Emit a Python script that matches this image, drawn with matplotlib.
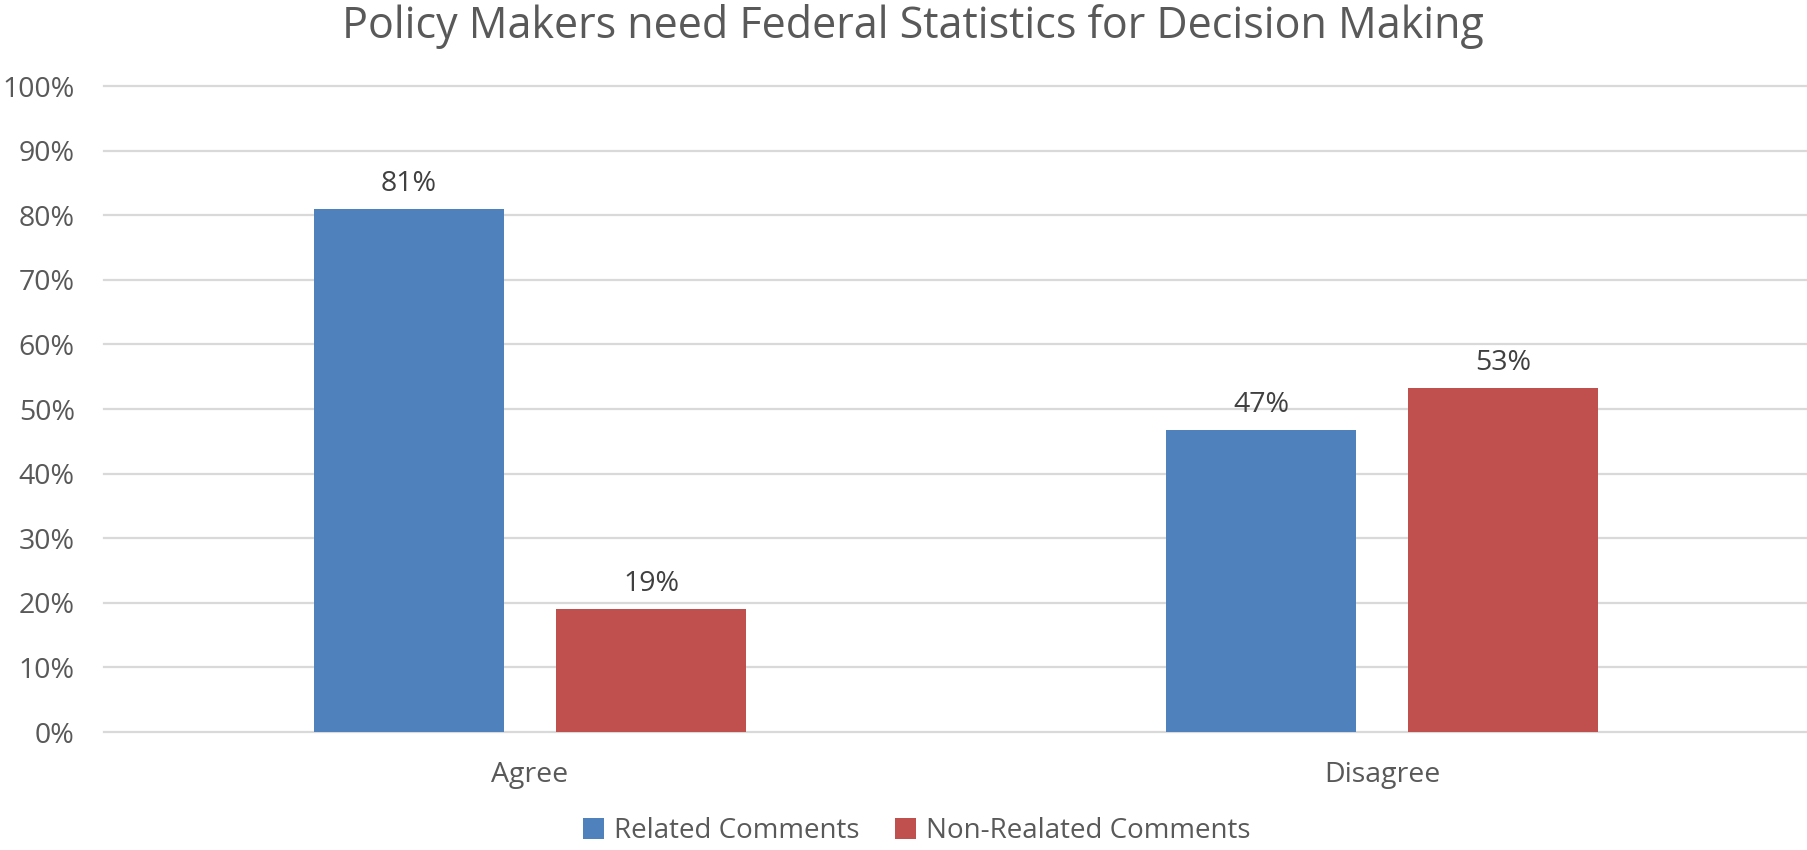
import matplotlib
matplotlib.use("Agg")
import matplotlib.pyplot as plt
from matplotlib.patches import Patch
import numpy as np

# data
categories = ["Agree", "Disagree"]
series_names = ["Related Comments", "Non-Realated Comments"]
related = [0.81, 0.467]
non_related = [0.19, 0.533]
y_ticks = [0.0, 0.1, 0.2, 0.3, 0.4, 0.5, 0.6, 0.7, 0.8, 0.9, 1.0]

colors = ["#4F81BD", "#C0504D"]
text_gray = "#595959"
label_gray = "#404040"
grid_gray = "#D9D9D9"

plt.rcParams["font.family"] = ["Open Sans", "DejaVu Sans"]

fig = plt.figure(figsize=(18.08, 8.5), dpi=100)
ax = fig.add_axes([0.0575, 0.1388, 0.9425, 0.76])

x = np.arange(len(categories))
width = 0.224
offset = 0.142

for vals, shift, color in zip([related, non_related], [-offset, offset], colors):
    bars = ax.bar(x + shift, vals, width=width, color=color, zorder=3)
    for b, v in zip(bars, vals):
        ax.annotate(f"{v * 100:.0f}%", (b.get_x() + b.get_width() / 2, v),
                    xytext=(0, 8), textcoords="offset points",
                    ha="center", va="bottom", fontsize=20.5, color=label_gray)

ax.set_xlim(-0.5, len(categories) - 0.5)
ax.set_ylim(0, 1.0)
ax.set_yticks(y_ticks)
ax.set_yticklabels([f"{t * 100:.0f}%" for t in y_ticks])
ax.set_xticks(x)
ax.set_xticklabels(categories)
ax.tick_params(axis="y", length=0, pad=21, labelsize=20.5, labelcolor=text_gray)
ax.tick_params(axis="x", length=0, pad=21, labelsize=20.5, labelcolor=text_gray)

ax.grid(axis="y", color=grid_gray, linewidth=1.6, zorder=0)
for gl in ax.yaxis.get_gridlines():
    gl.set_clip_on(False)
for s in ax.spines.values():
    s.set_visible(False)

fig.suptitle("Policy Makers need Federal Statistics for Decision Making",
             x=0.505, y=0.995, va="top", fontsize=31, color=text_gray)

handles = [Patch(facecolor=c, edgecolor="none") for c in colors]
fig.legend(handles, series_names, loc="center", bbox_to_anchor=(0.507, 0.022),
           ncol=2, frameon=False, fontsize=20, labelcolor=text_gray,
           handlelength=0.75, handleheight=0.75, handletextpad=0.35,
           columnspacing=1.3)

fig.savefig("out.png", dpi=100, facecolor="white")
